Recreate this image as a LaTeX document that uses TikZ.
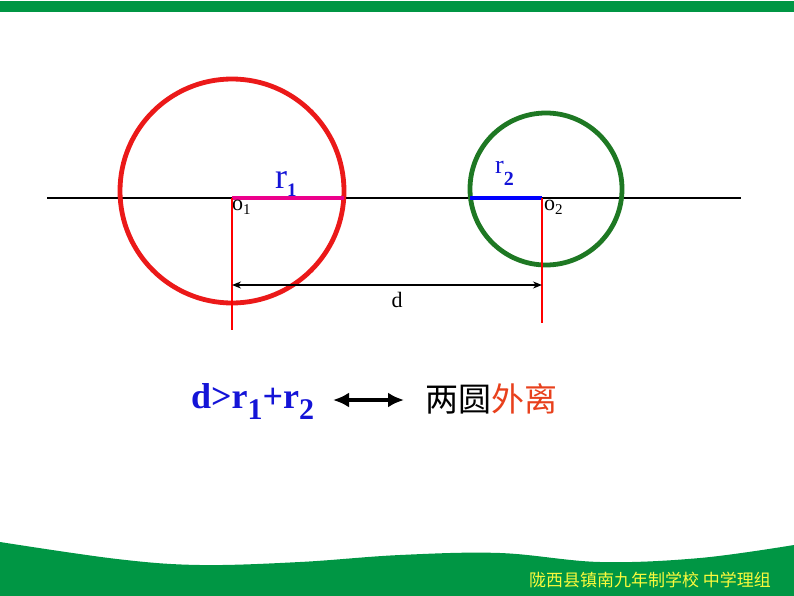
\documentclass[tikz,border=0pt]{standalone}
\usepackage{fontspec}
\setmainfont{Liberation Serif}
\newfontfamily\cjk{Noto Sans CJK SC}
\usetikzlibrary{arrows.meta}
\definecolor{schoolgreen}{RGB}{0,150,68}
\definecolor{circred}{RGB}{235,25,25}
\definecolor{circgreen}{RGB}{30,120,35}
\definecolor{textblue}{RGB}{20,20,215}
\definecolor{sepred}{RGB}{232,64,28}
\definecolor{mottoyellow}{RGB}{250,250,60}

\begin{document}
\begin{tikzpicture}[x=1pt, y=-1pt,
          ring/.style = {draw, circle, line width=4.8pt, inner sep=0pt},
          radius line/.style = {line width=4.5pt},
          drop/.style = {draw=red, line width=1.5pt},
          label/.style = {inner sep=0pt, font=\fontsize{22}{22}\selectfont}
        ]

        \useasboundingbox (0,0) rectangle (794,596);

        % top bar and bottom wave
        \fill[schoolgreen] (0,1) rectangle (794,12);
        \fill[schoolgreen] plot[smooth, tension=0.6] coordinates {(0,542) (117,559) (200,565) (300,562) (400,555) (500,553) (600,562) (700,558) (794,545)}
              -- (794,596) -- (0,596) -- cycle;
        \node[text=mottoyellow, font=\cjk\fontsize{17}{17}\selectfont] (motto) at (650,580) {陇西县镇南九年制学校 中学理组};

        % centres and axis
        \coordinate (o1) at (232,198);
        \coordinate (o2) at (542,198);
        \coordinate (axisL) at (47,198);
        \coordinate (axisR) at (741,198);
        \draw[line width=1.8pt] (axisL) -- (axisR);

        % circles
        \node[ring, draw=circred, minimum size=224pt] (bigcircle) at (232,191) {};
        \node[ring, draw=circgreen, minimum size=152pt] (smallcircle) at (546,189) {};

        % radii
        \coordinate (r1end) at (344,198);
        \coordinate (r2end) at (470,198);
        \draw[radius line, magenta] (o1) -- (r1end);
        \draw[radius line, blue] (r2end) -- (o2);
        \node[text=textblue, font=\fontsize{36}{36}\selectfont, anchor=base west, inner sep=0pt] (r1label) at (275,188) {r\raisebox{-9pt}{\fontsize{19}{19}\selectfont\textbf{1}}};
        \node[text=textblue, font=\fontsize{26}{26}\selectfont, anchor=base west, inner sep=0pt] (r2label) at (495,173) {r\raisebox{-12pt}{\fontsize{20}{20}\selectfont\textbf{2}}};
        \node[label, anchor=base west] (o1label) at (232,210) {o\raisebox{-4pt}{\fontsize{15}{15}\selectfont 1}};
        \node[label, anchor=base west] (o2label) at (544,210) {o\raisebox{-4pt}{\fontsize{15}{15}\selectfont 2}};

        % distance d
        \coordinate (drop1) at (232,330);
        \coordinate (drop2) at (542,323);
        \draw[drop] (o1) -- (drop1);
        \draw[drop] (o2) -- (drop2);
        \coordinate (dL) at (232,285);
        \coordinate (dR) at (542,285);
        \draw[line width=1.5pt, {Stealth[length=9pt,width=7pt]}-{Stealth[length=9pt,width=7pt]}] (dL) -- (dR);
        \node[label, anchor=base] (dlabel) at (397,307) {d};

        % relation
        \node[text=textblue, font=\bfseries\fontsize{36}{36}\selectfont, anchor=base west, inner sep=0pt] (formula) at (191,408)
              {d>r\raisebox{-11pt}{\fontsize{30}{30}\selectfont 1}+r\raisebox{-11pt}{\fontsize{30}{30}\selectfont 2}};
        \coordinate (arrL) at (333,400);
        \coordinate (arrR) at (404,400);
        \draw[line width=4pt, {Latex[length=16pt,width=15pt]}-{Latex[length=16pt,width=15pt]}] (arrL) -- (arrR);
        \node[font=\cjk\fontsize{33}{33}\selectfont, anchor=west, inner sep=0pt] (result) at (425,399) {两圆\textcolor{sepred}{外离}};
      \end{tikzpicture}
\end{document}
